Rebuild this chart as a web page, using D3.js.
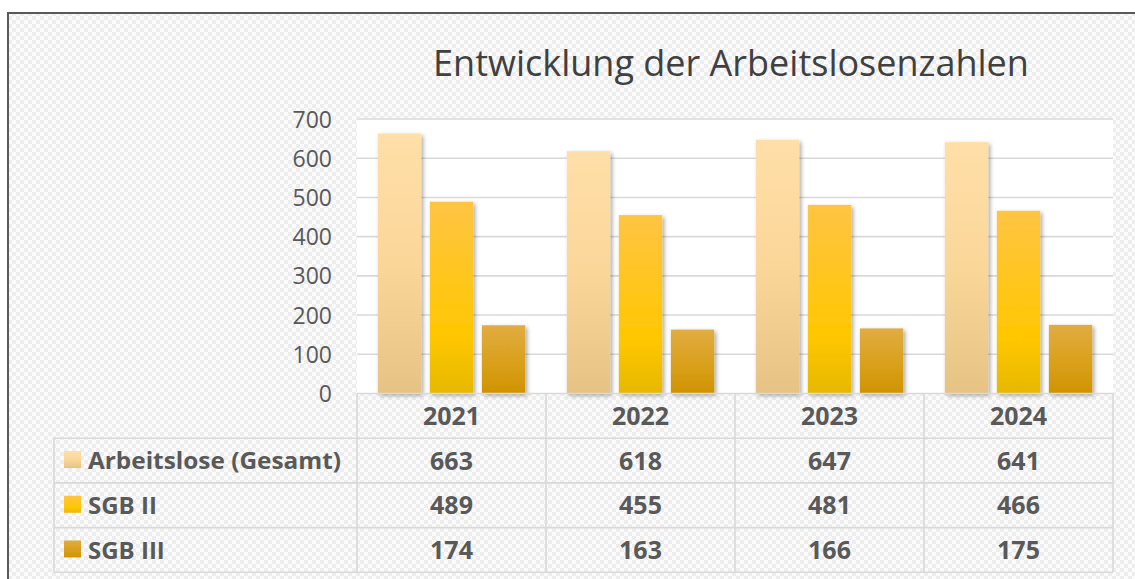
<!DOCTYPE html>
<html>
<head>
<meta charset="utf-8">
<script src="https://cdn.jsdelivr.net/npm/d3@7"></script>
<style>
html,body{margin:0;padding:0;background:#fff;}
svg{display:block;}
</style>
</head>
<body>
<svg id="chart" width="1135" height="579"></svg>
<script>
// ---- data ----
const years = ["2021", "2022", "2023", "2024"];
const seriesNames = ["Arbeitslose (Gesamt)", "SGB II", "SGB III"];
const gesamt = [663, 618, 647, 641];
const sgb2 = [489, 455, 481, 466];
const sgb3 = [174, 163, 166, 175];
const yTicks = [0, 100, 200, 300, 400, 500, 600, 700];
const title = "Entwicklung der Arbeitslosenzahlen";

const seriesValues = [gesamt, sgb2, sgb3];

// ---- layout ----
const W = 1135, H = 579;
const plot = {left: 357, right: 1113, top: 119, bottom: 393.5};
const tableLeft = 54;
const rowH = 44.7;
const FONT = "'Open Sans', 'Noto Sans', sans-serif";

const svg = d3.select("#chart");
const defs = svg.append("defs");

// checker pattern background
const pat = defs.append("pattern").attr("id", "checker")
  .attr("width", 8).attr("height", 8).attr("patternUnits", "userSpaceOnUse");
pat.append("rect").attr("width", 8).attr("height", 8).attr("fill", "#fbfbfb");
pat.append("rect").attr("width", 4).attr("height", 4).attr("fill", "#ededed");
pat.append("rect").attr("x", 4).attr("y", 4).attr("width", 4).attr("height", 4).attr("fill", "#ededed");

// gradients
const gradStops = [
  [[0, "#FFDFA8"], [0.5, "#FBD699"], [1, "#E6C385"]],
  [[0, "#FFC443"], [0.7, "#FFC700"], [1, "#E6B800"]],
  [[0, "#E1AC42"], [0.6, "#D99F18"], [1, "#D09300"]]
];
gradStops.forEach((stops, i) => {
  const g = defs.append("linearGradient").attr("id", "grad" + i)
    .attr("x1", 0).attr("y1", 0).attr("x2", 0).attr("y2", 1);
  stops.forEach(s => g.append("stop").attr("offset", s[0]).attr("stop-color", s[1]));
});

const shadow = defs.append("filter").attr("id", "shadow")
  .attr("x", "-20%").attr("y", "-10%").attr("width", "150%").attr("height", "130%");
shadow.append("feDropShadow").attr("dx", 2).attr("dy", 2).attr("stdDeviation", 2.2)
  .attr("flood-color", "#000").attr("flood-opacity", 0.35);

// background + outer border
svg.append("rect").attr("width", W).attr("height", H).attr("fill", "#fff");
svg.append("rect").attr("x", 8).attr("y", 13).attr("width", W + 20).attr("height", H + 20)
  .attr("fill", "url(#checker)").attr("stroke", "#5a5a5a").attr("stroke-width", 2);

// plot area
svg.append("rect").attr("x", plot.left).attr("y", plot.top - 1)
  .attr("width", plot.right - plot.left).attr("height", plot.bottom - plot.top + 1)
  .attr("fill", "#fff");

// scales
const x = d3.scaleBand().domain(years).range([plot.left, plot.right]).padding(0);
const groupInset = 20.8;
const xs = d3.scaleBand().domain(d3.range(seriesNames.length))
  .range([groupInset, x.bandwidth() - groupInset]).paddingInner(0.167).paddingOuter(0);
const y = d3.scaleLinear().domain([0, 700]).range([plot.bottom, plot.top]);

// gridlines
svg.append("g").selectAll("line").data(yTicks.filter(t => t > 0)).join("line")
  .attr("x1", plot.left).attr("x2", plot.right)
  .attr("y1", d => y(d)).attr("y2", d => y(d))
  .attr("stroke", "#d9d9d9").attr("stroke-width", 1.6);

// y axis labels
const axis = d3.axisLeft(y).tickValues(yTicks).tickSize(0).tickPadding(0);
const axG = svg.append("g").attr("transform", `translate(332,0)`).call(axis);
axG.select(".domain").remove();
axG.selectAll("text").attr("font-family", FONT).attr("font-size", 23)
  .attr("fill", "#595959").attr("dy", "0.35em").attr("x", 0);

// bars
const groups = svg.append("g").selectAll("g").data(years).join("g")
  .attr("transform", d => `translate(${x(d)},0)`);
groups.selectAll("rect").data((d, i) => seriesValues.map((s, k) => ({k, v: s[i]}))).join("rect")
  .attr("x", d => xs(d.k)).attr("width", xs.bandwidth())
  .attr("y", d => y(d.v)).attr("height", d => y(0) - y(d.v))
  .attr("fill", d => `url(#grad${d.k})`).attr("filter", "url(#shadow)");

// table lines
const tl = svg.append("g").attr("stroke", "#d9d9d9").attr("stroke-width", 1.6);
tl.append("line").attr("x1", plot.left).attr("x2", plot.right).attr("y1", plot.bottom).attr("y2", plot.bottom);
const rowTops = d3.range(seriesNames.length + 1).map(i => plot.bottom + rowH * (i + 1));
rowTops.forEach(yy => tl.append("line").attr("x1", tableLeft).attr("x2", plot.right).attr("y1", yy).attr("y2", yy));
const colEdges = years.map(d => x(d)).concat([plot.right]);
colEdges.forEach(xx => tl.append("line").attr("x1", xx).attr("x2", xx)
  .attr("y1", plot.bottom).attr("y2", rowTops[rowTops.length - 1]));
tl.append("line").attr("x1", tableLeft).attr("x2", tableLeft)
  .attr("y1", rowTops[0]).attr("y2", rowTops[rowTops.length - 1]);

const textStyle = sel => sel.attr("font-family", FONT).attr("font-weight", 700)
  .attr("font-size", 25).attr("fill", "#595959");

// header years
svg.append("g").selectAll("text").data(years).join("text")
  .attr("x", d => x(d) + x.bandwidth() / 2).attr("y", plot.bottom + rowH / 2)
  .attr("dy", "0.36em").attr("text-anchor", "middle").text(d => d).call(textStyle);

// value cells
seriesValues.forEach((vals, k) => {
  const cy = plot.bottom + rowH * (k + 1) + rowH / 2;
  svg.append("g").selectAll("text").data(vals).join("text")
    .attr("x", (d, i) => x(years[i]) + x.bandwidth() / 2).attr("y", cy)
    .attr("dy", "0.36em").attr("text-anchor", "middle").text(d => d).call(textStyle);
  // legend swatch + label
  svg.append("rect").attr("x", 64).attr("y", cy - 9.5).attr("width", 17).attr("height", 17)
    .attr("fill", `url(#grad${k})`);
  const lab = svg.append("text").attr("x", 88).attr("y", cy).attr("dy", "0.36em")
    .text(seriesNames[k]).call(textStyle).attr("font-size", 24);
});
// fit long legend label to reference width
const longLab = svg.selectAll("text").filter(function(){ return this.textContent === seriesNames[0]; });
longLab.each(function(){
  const w = this.getComputedTextLength();
  if (Math.abs(w - 253) > 3) d3.select(this).attr("textLength", 253).attr("lengthAdjust", "spacingAndGlyphs");
});

// title
const t = svg.append("text").attr("x", 731).attr("y", 76).attr("text-anchor", "middle")
  .attr("font-family", FONT).attr("font-size", 36).attr("fill", "#404040").text(title);
const tw = t.node().getComputedTextLength();
if (Math.abs(tw - 592) > 4) t.attr("textLength", 592).attr("lengthAdjust", "spacingAndGlyphs");
</script>
</body>
</html>
